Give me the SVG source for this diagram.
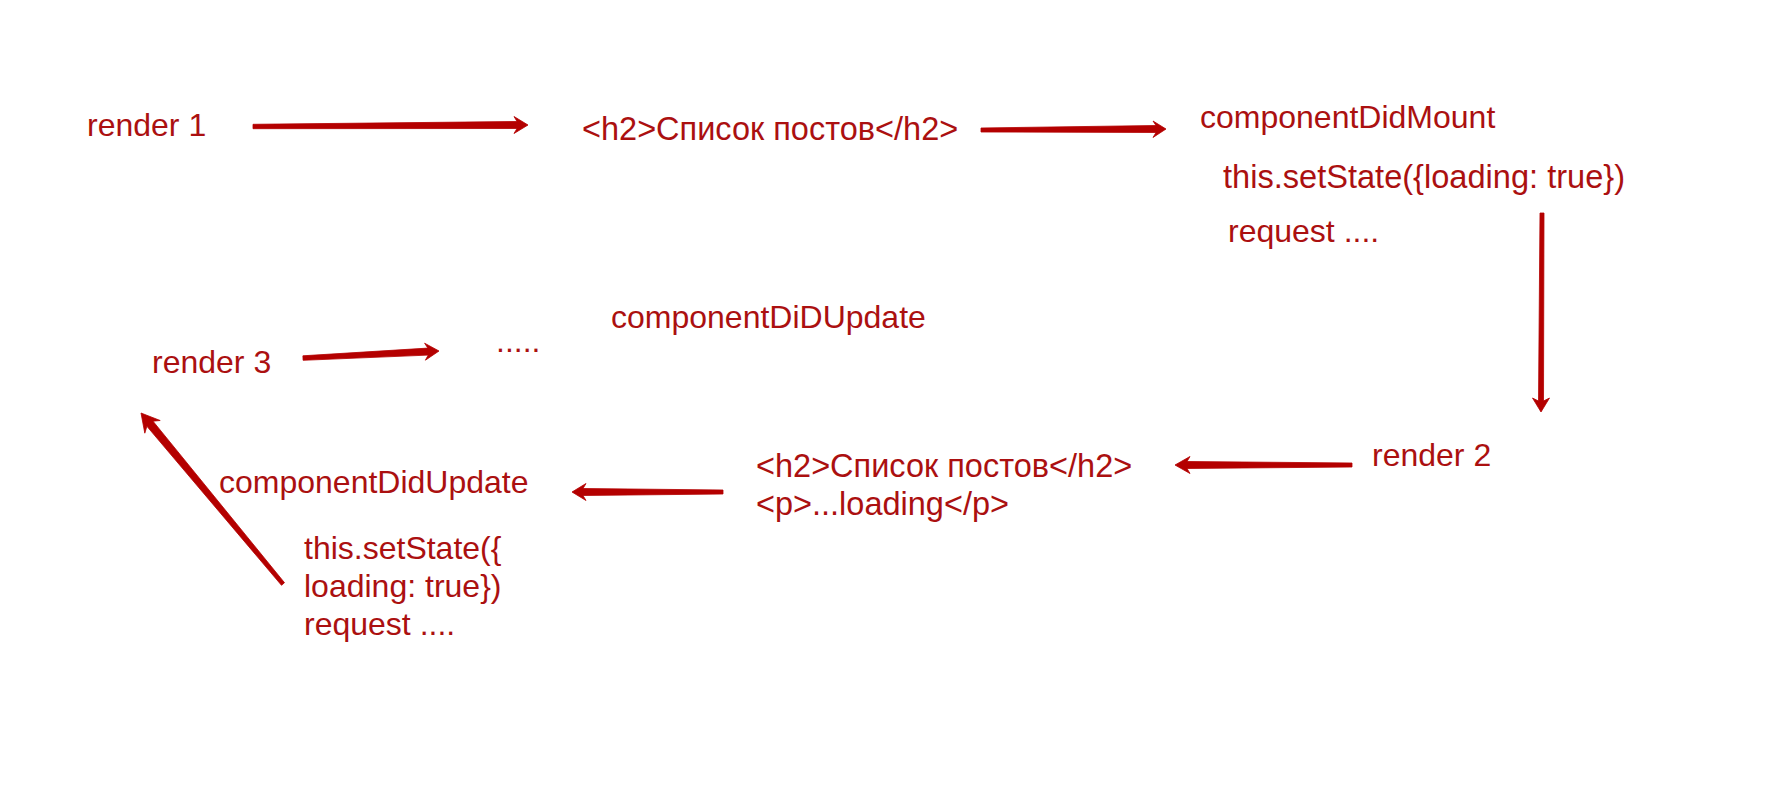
<svg xmlns="http://www.w3.org/2000/svg" width="1783" height="805" viewBox="0 0 1783 805">
<style>
text{font-family:"Liberation Sans",Arial,"Noto Sans",sans-serif;fill:#ab1010;font-size:32px}
.arrow{fill:#b40000;stroke:#b40000;stroke-width:0.8;stroke-linejoin:round}
</style>
<rect width="1783" height="805" fill="#ffffff"/>
<g id="render1"><text x="87" y="136">render 1</text></g>
<g id="h2-1"><text x="582" y="140" style="font-size:32.5px">&lt;h2&gt;Список постов&lt;/h2&gt;</text></g>
<g id="didMount">
<text x="1200" y="128">componentDidMount</text>
<text x="1223" y="188" style="font-size:32.6px">this.setState({loading: true})</text>
<text x="1228" y="242">request ....</text>
</g>
<g id="render2"><text x="1372" y="466">render 2</text></g>
<g id="h2-2">
<text x="756" y="477" style="font-size:32.5px">&lt;h2&gt;Список постов&lt;/h2&gt;</text>
<text x="756" y="515" style="font-size:32.5px">&lt;p&gt;...loading&lt;/p&gt;</text>
</g>
<g id="didUpdate">
<text x="219" y="493">componentDidUpdate</text>
<text x="304" y="559">this.setState({</text>
<text x="304" y="597">loading: true})</text>
<text x="304" y="635">request ....</text>
</g>
<g id="render3"><text x="152" y="373">render 3</text></g>
<g id="dots"><text x="496" y="352">.....</text></g>
<g id="didUpdate2"><text x="611" y="328">componentDiDUpdate</text></g>
<g id="connectors">
<path class="arrow" d="M253,124.3 L517,121.5 L514,116.5 L528,125 L514,133.5 L517,128.5 L253,128.7 Z"/>
<path class="arrow" d="M981,128 L1156,125.5 L1153,121 L1166,129 L1153,137.5 L1156,132.5 L981,132 Z"/>
<path class="arrow" d="M1540,213 L1538.5,401 L1532.5,398 L1541,412 L1549.5,398 L1543.5,401 L1544,213 Z"/>
<path class="arrow" d="M1352,463 L1187,461.5 L1190,456.5 L1175,465 L1190,473.5 L1187,468.5 L1352,467 Z"/>
<path class="arrow" d="M723,490 L583,488.5 L586,483.5 L572,492 L586,500.5 L583,495.5 L723,494 Z"/>
<path class="arrow" d="M302.9,355.8 L427.8,348.1 L424.6,343.2 L439,351 L425.4,360.2 L428.2,355.1 L303.1,360.3 Z"/>
<path class="arrow" d="M284.5,582.7 L153,421.2 L160.2,420.5 L141,413 L144.8,433.2 L146.9,426.3 L281.5,585.3 Z"/>
</g>
</svg>
